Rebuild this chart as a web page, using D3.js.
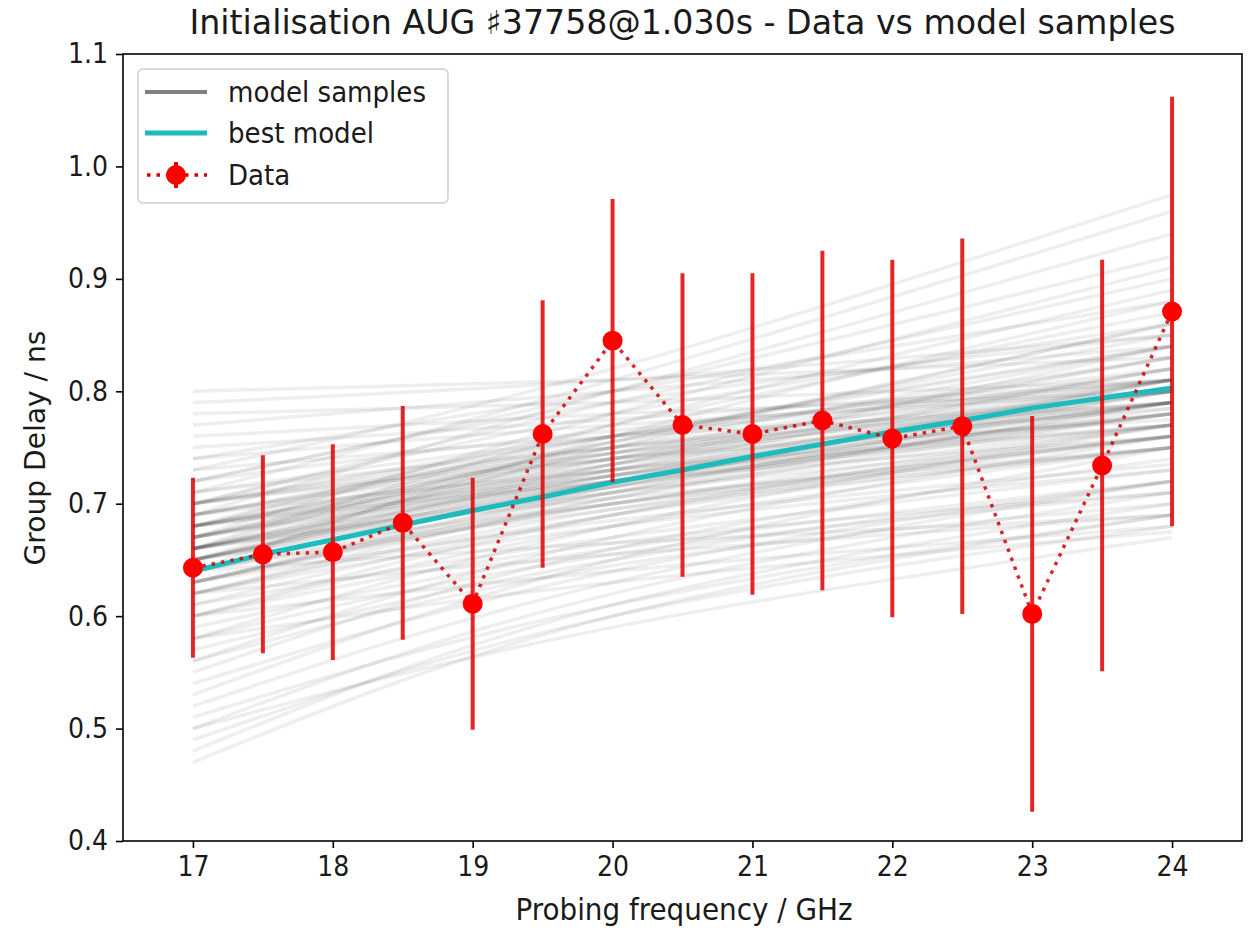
<!DOCTYPE html>
<html lang="en">
<head>
<meta charset="UTF-8">
<title>Data vs model samples</title>
<script src="https://cdn.jsdelivr.net/npm/d3@7/dist/d3.min.js"></script>
<style>
  body { margin: 0; background: #fff; }
  text { font-family: "DejaVu Sans Condensed", "DejaVu Sans", sans-serif; fill: #1a1a1a; }
</style>
</head>
<body>
<div id="chart"></div>
<script>
// frequencies (GHz) and measured group delay (ns)
var freq = [17, 17.5, 18, 18.5, 19, 19.5, 20, 20.5, 21, 21.5, 22, 22.5, 23, 23.5, 24];
var delay = [0.643, 0.655, 0.657, 0.683, 0.611, 0.762, 0.845, 0.770, 0.762, 0.774, 0.758, 0.769, 0.602, 0.734, 0.871];
var delayErr = [0.080, 0.088, 0.096, 0.104, 0.112, 0.119, 0.126, 0.135, 0.143, 0.151, 0.159, 0.167, 0.176, 0.183, 0.191];

// best model at the same frequencies
var bestModel = [0.640, 0.655, 0.668, 0.681, 0.694, 0.706, 0.719, 0.730, 0.742, 0.753, 0.764, 0.774, 0.785, 0.794, 0.803];

// model samples: delay read at 17, 20 and 24 GHz for each sample curve
var sampleFreq = [17, 20, 24];
var samples = [
  [0.64,0.72,0.80],[0.65,0.72,0.79],[0.66,0.725,0.79],[0.63,0.71,0.80],[0.67,0.73,0.79],
  [0.66,0.715,0.78],[0.68,0.735,0.79],[0.62,0.705,0.79],[0.65,0.73,0.82],[0.67,0.74,0.81],
  [0.69,0.745,0.80],[0.64,0.715,0.78],[0.66,0.73,0.80],[0.70,0.75,0.80],[0.68,0.745,0.82],
  [0.63,0.70,0.77],[0.67,0.72,0.77],[0.69,0.74,0.785],[0.65,0.70,0.75],[0.66,0.71,0.76],
  [0.70,0.76,0.82],[0.71,0.76,0.81],[0.64,0.70,0.76],[0.68,0.725,0.77],[0.62,0.69,0.75],
  [0.67,0.745,0.83],[0.69,0.755,0.83],[0.72,0.765,0.81],[0.66,0.735,0.82],[0.63,0.715,0.81],
  [0.65,0.725,0.81],[0.60,0.69,0.77],[0.68,0.73,0.78],[0.70,0.74,0.775],[0.71,0.75,0.79],
  [0.65,0.715,0.785],[0.64,0.71,0.79],[0.66,0.72,0.78],[0.67,0.725,0.78],[0.65,0.71,0.77],
  [0.68,0.74,0.80],[0.66,0.725,0.80],[0.63,0.705,0.78],[0.67,0.735,0.81],[0.69,0.75,0.81],
  [0.64,0.72,0.81],[0.66,0.74,0.83],[0.68,0.75,0.84],[0.65,0.735,0.84],[0.67,0.755,0.86],
  [0.70,0.76,0.84],[0.63,0.70,0.76],[0.64,0.695,0.75],[0.66,0.705,0.75],[0.62,0.695,0.76],
  [0.61,0.69,0.76],[0.68,0.72,0.76],[0.69,0.73,0.77],[0.65,0.72,0.79],[0.70,0.745,0.79],
  [0.68,0.77,0.87],[0.66,0.77,0.89],[0.70,0.79,0.90],[0.64,0.76,0.88],[0.72,0.80,0.92],
  [0.69,0.80,0.94],[0.71,0.81,0.96],[0.73,0.82,0.975],[0.67,0.78,0.91],[0.65,0.75,0.86],
  [0.70,0.78,0.86],[0.74,0.80,0.88],[0.72,0.79,0.85],[0.68,0.76,0.84],[0.66,0.755,0.85],
  [0.76,0.78,0.80],[0.78,0.79,0.81],[0.80,0.81,0.83],[0.75,0.775,0.81],[0.77,0.80,0.84],
  [0.74,0.77,0.80],[0.73,0.76,0.79],[0.79,0.81,0.85],
  [0.58,0.68,0.77],[0.56,0.67,0.76],[0.55,0.66,0.74],[0.60,0.68,0.75],[0.57,0.65,0.72],
  [0.53,0.65,0.75],[0.54,0.64,0.72],[0.59,0.66,0.72],[0.61,0.67,0.73],[0.62,0.68,0.73],
  [0.58,0.655,0.71],[0.60,0.665,0.71],[0.52,0.63,0.72],[0.63,0.685,0.735],[0.56,0.645,0.70],
  [0.48,0.61,0.70],[0.50,0.62,0.71],[0.47,0.60,0.69],[0.49,0.60,0.68],[0.51,0.61,0.69],
  [0.50,0.59,0.67],[0.60,0.64,0.68],[0.62,0.655,0.69],[0.64,0.665,0.69],[0.58,0.63,0.675]
];

var xTicks = [17, 18, 19, 20, 21, 22, 23, 24];
var yTicks = [0.4, 0.5, 0.6, 0.7, 0.8, 0.9, 1.0, 1.1];
var legendLabels = ["model samples", "best model", "Data"];

var width = 1252, height = 929;
var plot = { left: 123, right: 1242, top: 54, bottom: 841 };

var svg = d3.select("#chart").append("svg")
  .attr("width", width)
  .attr("height", height);

var x = d3.scaleLinear().domain([16.5, 24.5]).range([plot.left, plot.right]);
var y = d3.scaleLinear().domain([0.4, 1.1]).range([plot.bottom, plot.top]);

// sample curves
var sampleLine = d3.line()
  .x(function(d, i) { return x(sampleFreq[i]); })
  .y(function(d) { return y(d); })
  .curve(d3.curveNatural);

svg.append("g").selectAll("path")
  .data(samples)
  .enter().append("path")
  .attr("d", sampleLine)
  .attr("fill", "none")
  .attr("stroke", "#000")
  .attr("stroke-opacity", 0.065)
  .attr("stroke-width", 3.5);

// best model
var freqLine = d3.line()
  .x(function(d, i) { return x(freq[i]); })
  .y(function(d) { return y(d); });

svg.append("path")
  .datum(bestModel)
  .attr("d", freqLine)
  .attr("fill", "none")
  .attr("stroke", "#1cbcbc")
  .attr("stroke-width", 5);

// error bars
svg.append("g").selectAll("line")
  .data(delay)
  .enter().append("line")
  .attr("x1", function(d, i) { return x(freq[i]); })
  .attr("x2", function(d, i) { return x(freq[i]); })
  .attr("y1", function(d, i) { return y(d - delayErr[i]); })
  .attr("y2", function(d, i) { return y(d + delayErr[i]); })
  .attr("stroke", "#e00000")
  .attr("stroke-opacity", 0.85)
  .attr("stroke-width", 4);

// dotted data line
svg.append("path")
  .datum(delay)
  .attr("d", freqLine)
  .attr("fill", "none")
  .attr("stroke", "#d40000")
  .attr("stroke-opacity", 0.85)
  .attr("stroke-width", 3.5)
  .attr("stroke-dasharray", "3.5,6");

// markers
svg.append("g").selectAll("circle")
  .data(delay)
  .enter().append("circle")
  .attr("cx", function(d, i) { return x(freq[i]); })
  .attr("cy", function(d) { return y(d); })
  .attr("r", 10)
  .attr("fill", "#ff0000");

// axes
var xAxis = d3.axisBottom(x).tickValues(xTicks).tickFormat(d3.format("d")).tickSize(7).tickPadding(8);
var yAxis = d3.axisLeft(y).tickValues(yTicks).tickFormat(d3.format(".1f")).tickSize(7).tickPadding(8);

var gx = svg.append("g").attr("transform", "translate(0," + plot.bottom + ")").call(xAxis);
var gy = svg.append("g").attr("transform", "translate(" + plot.left + ",0)").call(yAxis);
[gx, gy].forEach(function(g) {
  g.select(".domain").remove();
  g.selectAll(".tick line").attr("stroke", "#000").attr("stroke-width", 1.6);
  g.selectAll(".tick text").attr("font-size", 28).attr("fill", "#1a1a1a")
    .style("font-family", '"DejaVu Sans Condensed", "DejaVu Sans", sans-serif');
});

svg.append("rect")
  .attr("x", plot.left).attr("y", plot.top)
  .attr("width", plot.right - plot.left)
  .attr("height", plot.bottom - plot.top)
  .attr("fill", "none")
  .attr("stroke", "#000")
  .attr("stroke-width", 1.6);

// labels
svg.append("text")
  .attr("x", (plot.left + plot.right) / 2).attr("y", 34)
  .attr("text-anchor", "middle").attr("font-size", 33)
  .attr("textLength", 986).attr("lengthAdjust", "spacingAndGlyphs")
  .text("Initialisation AUG \u266F37758@1.030s - Data vs model samples");

svg.append("text")
  .attr("x", 684).attr("y", 920)
  .attr("text-anchor", "middle").attr("font-size", 30)
  .attr("textLength", 337).attr("lengthAdjust", "spacingAndGlyphs")
  .text("Probing frequency / GHz");

svg.append("text")
  .attr("transform", "translate(45,448) rotate(-90)")
  .attr("text-anchor", "middle").attr("font-size", 29)
  .attr("textLength", 235).attr("lengthAdjust", "spacingAndGlyphs")
  .text("Group Delay / ns");

// legend
var legend = svg.append("g").attr("transform", "translate(138,69)");
legend.append("rect")
  .attr("width", 310).attr("height", 134)
  .attr("rx", 5)
  .attr("fill", "#fff").attr("fill-opacity", 0.8)
  .attr("stroke", "#d0d0d0").attr("stroke-width", 1.5);

var rowY = [23, 64, 106];
legend.append("line")
  .attr("x1", 7).attr("x2", 69).attr("y1", rowY[0]).attr("y2", rowY[0])
  .attr("stroke", "#808080").attr("stroke-width", 4);
legend.append("line")
  .attr("x1", 7).attr("x2", 69).attr("y1", rowY[1]).attr("y2", rowY[1])
  .attr("stroke", "#1cbcbc").attr("stroke-width", 5);
legend.append("line")
  .attr("x1", 9).attr("x2", 69).attr("y1", rowY[2]).attr("y2", rowY[2])
  .attr("stroke", "#d40000").attr("stroke-width", 3.5).attr("stroke-dasharray", "3.5,6");
legend.append("line")
  .attr("x1", 38).attr("x2", 38).attr("y1", rowY[2] - 13).attr("y2", rowY[2] + 13)
  .attr("stroke", "#e00000").attr("stroke-width", 4);
legend.append("circle")
  .attr("cx", 38).attr("cy", rowY[2]).attr("r", 10).attr("fill", "#ff0000");

legend.selectAll("text.lbl")
  .data(legendLabels)
  .enter().append("text")
  .attr("class", "lbl")
  .attr("x", 90)
  .attr("y", function(d, i) { return rowY[i] + 10; })
  .attr("font-size", 29)
  .text(function(d) { return d; });
</script>
</body>
</html>
